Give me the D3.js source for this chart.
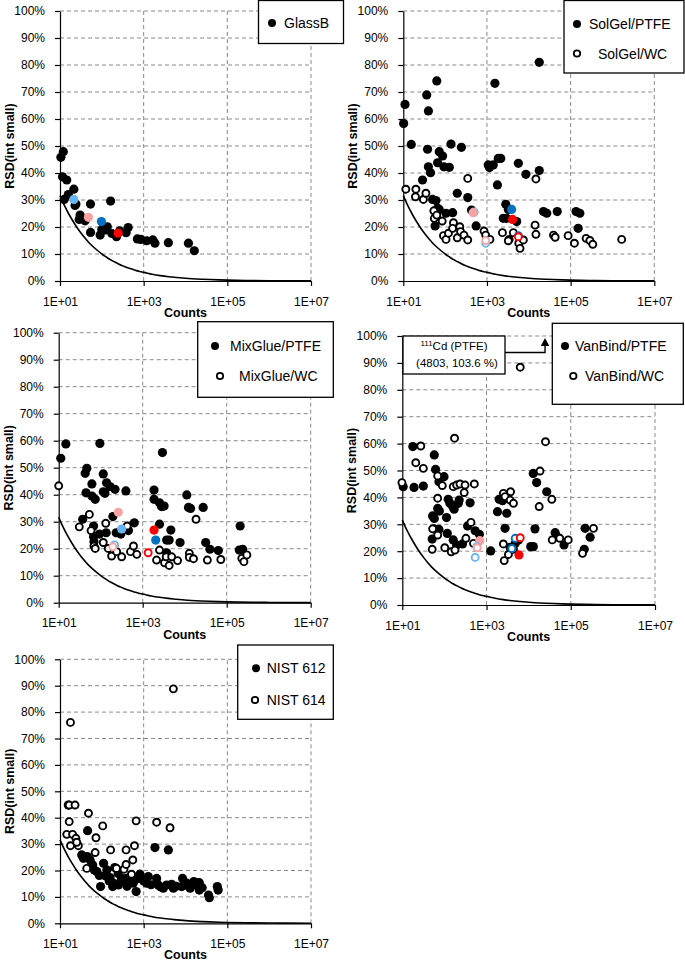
<!DOCTYPE html>
<html><head><meta charset="utf-8">
<script src="https://cdn.jsdelivr.net/npm/d3@7"></script>
<style>body{margin:0;background:#fff}svg{display:block}text{font-family:"Liberation Sans",Arial,sans-serif;fill:#000}</style>
</head><body><svg id="c" width="685" height="966"></svg>
<script>
// ---------- DATA ----------
const xTickValues=[10,1e3,1e5,1e7];
const xTickLabels=["1E+01","1E+03","1E+05","1E+07"];
const yTickValues=[0,10,20,30,40,50,60,70,80,90,100];
const xTitle="Counts", yTitle="RSD(int small)";

// theoretical counting-statistics curve (counts, RSD %)
const poissonCounts=[10,13,16,20,25,32,40,50,63,80,100,130,160,200,250,320,400,500,630,800,1000,1600,2500,4000,6300,10000,25000,63000,1e5,4e5,1e6,1e7];
const poissonRSD=[31.6,27.7,25,22.4,20,17.7,15.8,14.1,12.6,11.2,10,8.8,7.9,7.1,6.3,5.6,5,4.5,4,3.5,3.2,2.5,2,1.6,1.3,1,0.63,0.4,0.32,0.16,0.1,0.03];

const glassB=[[10.5,45.8],[12,47.9],[11.5,38.6],[14.5,37.4],[12.6,30.2],[15.8,32],[21.4,34],[24,28.5],[30.2,24.4],[28.8,22.8],[39.8,22.3],[53.7,28.5],[53.7,18],[91.2,17],[162,29.6],[126,18.9],[135,20.1],[174,17.6],[224,16.4],[269,18.6],[380,17.9],[427,19.8],[708,15.6],[851,15.4],[1175,14.9],[1660,15.2],[1862,14],[3890,14.2],[11750,14],[16220,11.2],[100,19.1],[22.9,28]];
// highlighted isotopes: [counts, RSD, isotope key, filled(1)/open(0)]
const glassBHighlight=[[21.4,30.2,"lb",1],[47.9,23.6,"pk",1],[97.7,22,"db",1],[245,17.7,"rd",1]];

const solGelPTFE=[[11,65.4],[10.2,58.3],[15.5,50.6],[36.3,68.9],[39.8,63],[63.1,74.1],[38,48.8],[39.8,42.3],[44.7,40.1],[28.8,37.4],[66.1,43.8],[72.4,47.9],[87.1,46.3],[93.3,42.3],[126,42.1],[138,50.7],[245,49.5],[195,32.5],[347,30.9],[50.1,30.2],[60.3,29.8],[66.1,26.9],[72.4,26.5],[105,25.1],[151,25.3],[57.5,20.4],[550,20.4],[427,26.3],[1549,73.2],[1072,43],[1148,42],[1413,43],[1862,45.4],[2138,45.4],[1778,35.6],[2818,28.4],[3236,26.5],[2455,23.2],[2951,23.2],[5129,22],[5623,43.6],[8511,39.5],[17780,81],[17780,40.9],[22390,25.7],[26920,25.1],[47860,25.7],[134900,25.7],[166000,25.1],[151400,19.5]];
const solGelWC=[[11.5,34],[20,34],[19.5,31.2],[30.2,30.2],[34.7,32.5],[53.7,26],[55,23.2],[63.1,24.4],[85.1,22.2],[91.2,16.8],[105,15.4],[120,17.7],[158,21.6],[151,19.5],[195,16],[224,20.1],[234,18.3],[282,17],[347,15.2],[347,38],[851,18.5],[933,17],[1175,15.4],[2344,17.9],[3388,15.4],[4266,17.9],[5754,14],[6166,12.1],[7413,15.2],[14130,20.7],[14790,17.3],[14790,37.8],[38900,17],[42660,16.2],[87100,16.8],[123000,14],[234400,15.8],[288400,15],[338800,13.6],[1660000,15.4],[3236,14.9]];
const solGelHighlight=[[490,25.5,"lb",1],[468,25.3,"pk",1],[3890,26.5,"db",1],[4074,22.8,"rd",1],[933,14,"lb",0],[933,15,"pk",0],[5623,16.8,"db",0],[5623,16.4,"rd",0]];

const mixGluePTFE=[[11.2,53.5],[14.8,58.8],[95.5,59],[2951,55.6],[46.8,49.8],[42.7,47.9],[115,47.7],[138,44.4],[61.7,44],[44.7,40.7],[61.7,39.5],[74.1,38.3],[115,41.1],[126,40.5],[166,43],[219,42],[398,41.4],[1862,41.7],[1862,38.3],[2512,37],[2818,35.6],[3236,35.8],[11220,39.9],[12300,35.3],[13800,34.9],[27540,35.3],[208900,28.4],[37.2,30.9],[67.6,28.4],[67.6,24.4],[93.3,25.4],[135,25.9],[195,31.9],[234,25.9],[302,25.4],[457,26.7],[631,29.6],[2512,29.1],[4677,26.9],[3715,23.2],[4266,23.2],[7762,22.3],[31620,22.3],[39810,19.8],[63100,19.3],[199500,19.5],[239900,19.8],[69.2,22.6],[3715,18.5]];
const mixGlueWC=[[10,43.3],[30.9,28.1],[53.7,32.7],[58.9,26.7],[69.2,21],[74.1,20.1],[132,29.4],[115,22.3],[151,20.1],[182,17.3],[240,18.9],[316,17],[427,28.4],[513,18.9],[603,21],[724,17.9],[2138,15.8],[2512,19.5],[3311,14.8],[3631,17],[4266,13.8],[4898,17],[6761,15.6],[12880,18.3],[12880,16.8],[16220,16.3],[18620,30.9],[34670,15.8],[72440,16],[229100,16.4],[257000,15.2],[302000,17.7]];
const mixGlueHighlight=[[1862,26.9,"rd",1],[2042,23.2,"db",1],[263,33.5,"pk",1],[316,27.3,"lb",1],[1349,18.5,"rd",0],[214,21.4,"lb",0],[195,20.7,"pk",0]];

const vanBindPTFE=[[10.5,44],[17.8,58.9],[19,43.7],[31.6,44.2],[57.5,55.8],[61.7,50.4],[74.1,45.8],[97.7,47.7],[69.2,35.9],[75.9,34.9],[52.5,33.1],[57.5,32.2],[112,32.5],[123,39.3],[135,37.8],[158,36.6],[170,35.6],[214,37.8],[224,39],[407,38],[57.5,28.3],[51.3,24.5],[74.1,28.1],[117,26.6],[162,24.2],[195,22.3],[269,22.7],[355,29.4],[537,27.6],[676,26.3],[1259,20.1],[1820,34.7],[3020,34.1],[1995,39.3],[2399,38.8],[2754,28.5],[3631,21.4],[4786,22.9],[5754,24.2],[12880,48.9],[15490,45.5],[11220,21.7],[12880,21.7],[14130,28.3],[26920,42.1],[42660,26.9],[46770,25.4],[69180,22.3],[208900,20.7],[218800,28.5],[288400,25.2]];
const vanBindWC=[[9.8,45.5],[20.9,52.9],[27.5,59.1],[31.6,50.8],[69.2,48],[89.1,44.4],[69.2,39.7],[174,62],[162,44],[195,44.6],[234,45],[309,44.6],[295,41.8],[513,45],[52.5,28.3],[69.2,26],[51.3,20.7],[102,21.3],[145,19.8],[178,20.4],[324,24.8],[427,30.7],[490,22.9],[2512,22.7],[2630,16.5],[3311,18.8],[2512,41.5],[2754,40.3],[3631,39],[3715,42.1],[4365,37.8],[6310,88.4],[18620,49.8],[17780,36.6],[25120,60.7],[35480,39.3],[36310,24.2],[54950,24.8],[87100,24.2],[190500,19.2],[346700,28.5],[4365,20.7]];
const vanBindHighlight=[[692,23.9,"pk",1],[5888,18.6,"rd",1],[3981,21,"db",0],[4786,24.8,"db",0],[6310,25,"rd",0],[537,17.7,"lb",0],[589,21.7,"lb",0],[600,21.3,"pk",0]];
const vanBindNote={isotope:"111",label:"Cd (PTFE)",counts:4803,rsd:103.6,arrowCounts:24500};

const nist612=[[15.8,44.8],[45.7,35.1],[33.1,25.9],[36.3,24.6],[44.7,25.3],[52.5,24],[60.3,22.1],[66.1,20.2],[75.9,19.6],[93.3,13.9],[110,22.7],[87.1,18.1],[132,20.2],[182,13.9],[204,21.1],[158,17.3],[245,18.9],[295,17],[380,17],[457,15.8],[562,15.2],[661,12],[617,16.4],[813,18.6],[891,17],[1175,15.2],[1288,17.7],[1862,28.7],[3890,27.8],[2042,17],[2239,14.5],[2951,13.3],[3548,14.5],[4677,14.8],[5129,13.3],[8511,17],[8128,13.9],[10700,15.2],[12880,13.3],[15850,15.8],[18620,14.5],[21380,15.4],[21380,12.6],[35480,10.7],[37150,9.7],[57540,13.9],[60260,12.6],[120,18],[150,16],[200,15],[250,14.5],[320,16],[400,14],[500,18],[700,17],[1000,16],[1500,14.6],[2500,13.8],[6000,14],[10000,14.5],[25000,13.5]];
const nist614=[[17.8,76.1],[5129,88.8],[16.6,44.8],[22.9,44.8],[16.6,38.5],[14.5,33.7],[20,33.7],[24,32.2],[17.8,29.4],[27.5,29.4],[25.1,30.7],[47.9,41.7],[105,36.9],[72.4,32.4],[69.2,26.8],[43.6,20.8],[162,27.8],[380,27.8],[603,29.4],[661,38.8],[2042,38.3],[4266,36.2],[550,24],[339,20.5],[380,22.3],[513,18.6],[224,20.8]];

// ---------- STYLE / LAYOUT ----------
const colorMap={lb:"#67b5f2",db:"#0070c0",pk:"#f7a3a3",rd:"#ff0000"};
const panels=[
 {frame:{x0:60,x1:311,yb:281,yt:11},filled:[glassB],open:[],hl:glassBHighlight,
  legend:{x:258.5,y:0.5,w:85,h:43,items:[{f:1,cx:272,cy:23,tx:284,label:"GlassB"}]}},
 {frame:{x0:403.3,x1:654.3,yb:281,yt:11},filled:[solGelPTFE],open:[solGelWC],hl:solGelHighlight,
  legend:{x:564,y:0.5,w:120,h:72.5,items:[{f:1,cx:577,cy:24,tx:589,label:"SolGel/PTFE"},{f:0,cx:577,cy:53.5,tx:598,label:"SolGel/WC"}]}},
 {frame:{x0:58.7,x1:310.7,yb:602.7,yt:332.7},filled:[mixGluePTFE],open:[mixGlueWC],hl:mixGlueHighlight,
  legend:{x:197.7,y:321.7,w:135.6,h:75.6,items:[{f:1,cx:215,cy:346,tx:230,label:"MixGlue/PTFE"},{f:0,cx:220,cy:376,tx:239,label:"MixGlue/WC"}]}},
 {frame:{x0:402.3,x1:655,yb:605,yt:336},filled:[vanBindPTFE],open:[vanBindWC],hl:vanBindHighlight,note:vanBindNote,
  legend:{x:552.3,y:323.3,w:131,h:81,items:[{f:1,cx:565,cy:346,tx:575,label:"VanBind/PTFE"},{f:0,cx:573.3,cy:376,tx:585,label:"VanBind/WC"}]}},
 {frame:{x0:60,x1:311,yb:923.3,yt:659.3},filled:[nist612],open:[nist614],hl:[],
  legend:{x:237.7,y:645,w:95.6,h:74.3,items:[{f:1,cx:256,cy:668.3,tx:266.7,label:"NIST 612"},{f:0,cx:255,cy:700,tx:266.7,label:"NIST 614"}]}}
];

const svg=d3.select("#c");
panels.forEach(p=>{
  const f=p.frame;
  const x=d3.scaleLog().domain([10,1e7]).range([f.x0,f.x1]);
  const y=d3.scaleLinear().domain([0,100]).range([f.yb,f.yt]);
  const g=svg.append("g");
  // grid
  g.selectAll(".hg").data(yTickValues.filter(v=>v>0)).join("line")
    .attr("x1",f.x0).attr("x2",f.x1).attr("y1",d=>y(d)).attr("y2",d=>y(d))
    .attr("stroke","#8a8a8a").attr("stroke-width",1).attr("stroke-dasharray","4,3");
  g.selectAll(".vg").data(xTickValues.slice(1)).join("line")
    .attr("x1",d=>x(d)).attr("x2",d=>x(d)).attr("y1",f.yb).attr("y2",f.yt)
    .attr("stroke","#8a8a8a").attr("stroke-width",1).attr("stroke-dasharray","4,3");
  // axes
  const ya=g.append("g").attr("transform",`translate(${f.x0},0)`)
    .call(d3.axisLeft(y).tickValues(yTickValues).tickFormat(d=>d+"%").tickSize(5).tickSizeOuter(0).tickPadding(10));
  const xa=g.append("g").attr("transform",`translate(0,${f.yb})`)
    .call(d3.axisBottom(x).tickValues(xTickValues).tickFormat((d,i)=>xTickLabels[i]).tickSize(5).tickSizeOuter(0).tickPadding(11));
  [ya,xa].forEach(a=>{a.selectAll("path,line").attr("stroke","#000").attr("stroke-width",1.2);
    a.selectAll("text").attr("font-size",12).attr("font-family",'"Liberation Sans",Arial,sans-serif').attr("fill","#000");});
  // titles
  g.append("text").attr("x",(f.x0+f.x1)/2).attr("y",f.yb+36).attr("text-anchor","middle")
    .attr("font-size",12.5).attr("font-weight","bold").text(xTitle);
  g.append("text").attr("transform",`translate(${f.x0-46},${(f.yb+f.yt)/2}) rotate(-90)`).attr("text-anchor","middle")
    .attr("font-size",12.5).attr("font-weight","bold").text(yTitle);
  // curve
  const line=d3.line().x(d=>x(d[0])).y(d=>y(d[1])).curve(d3.curveMonotoneX);
  g.append("path").datum(poissonCounts.map((c,i)=>[c,poissonRSD[i]]))
    .attr("d",line).attr("fill","none").attr("stroke","#000").attr("stroke-width",1.6);
  // points
  p.filled.forEach(s=>g.append("g").selectAll("circle").data(s).join("circle")
    .attr("cx",d=>x(d[0])).attr("cy",d=>y(d[1])).attr("r",4.6).attr("fill","#000"));
  p.open.forEach(s=>g.append("g").selectAll("circle").data(s).join("circle")
    .attr("cx",d=>x(d[0])).attr("cy",d=>y(d[1])).attr("r",3.5).attr("fill","#fff").attr("stroke","#000").attr("stroke-width",1.9));
  g.append("g").selectAll("circle").data(p.hl).join("circle")
    .attr("cx",d=>x(d[0])).attr("cy",d=>y(d[1])).attr("r",d=>d[3]?4.6:3.5)
    .attr("fill",d=>d[3]?colorMap[d[2]]:"#fff").attr("stroke",d=>d[3]?"none":colorMap[d[2]]).attr("stroke-width",1.9);
  // legend
  const L=p.legend;
  g.append("rect").attr("x",L.x).attr("y",L.y).attr("width",L.w).attr("height",L.h)
    .attr("fill","#fff").attr("stroke","#000").attr("stroke-width",1.3);
  L.items.forEach(it=>{
    g.append("circle").attr("cx",it.cx).attr("cy",it.cy).attr("r",it.f?4:3.2)
      .attr("fill",it.f?"#000":"#fff").attr("stroke","#000").attr("stroke-width",it.f?0:1.8);
    g.append("text").attr("x",it.tx).attr("y",it.cy+5).attr("font-size",14).text(it.label);
  });
  // annotation
  if(p.note){
    const n=p.note, bx=f.x0+0.7, by=f.yt, bw=102, bh=38;
    g.append("rect").attr("x",bx).attr("y",by).attr("width",bw).attr("height",bh)
      .attr("fill","#fff").attr("stroke","#000").attr("stroke-width",1.3);
    const t1=g.append("text").attr("x",bx+bw/2).attr("y",by+13.5).attr("text-anchor","middle").attr("font-size",11.5);
    t1.append("tspan").attr("font-size",8).attr("dy",-4).text(n.isotope);
    t1.append("tspan").attr("dy",4).text(n.label);
    g.append("text").attr("x",bx+bw/2+3).attr("y",by+31).attr("text-anchor","middle").attr("font-size",11.5)
      .text(`(${n.counts}, ${n.rsd} %)`);
    const ax=x(n.arrowCounts), ly=by+16.5;
    g.append("path").attr("d",`M${bx+bw},${ly}H${ax}V${by+9}`).attr("fill","none").attr("stroke","#000").attr("stroke-width",1.4);
    g.append("path").attr("d",`M${ax},${by+2}L${ax-4.3},${by+10}L${ax+4.3},${by+10}Z`).attr("fill","#000");
  }
});
</script></body></html>
